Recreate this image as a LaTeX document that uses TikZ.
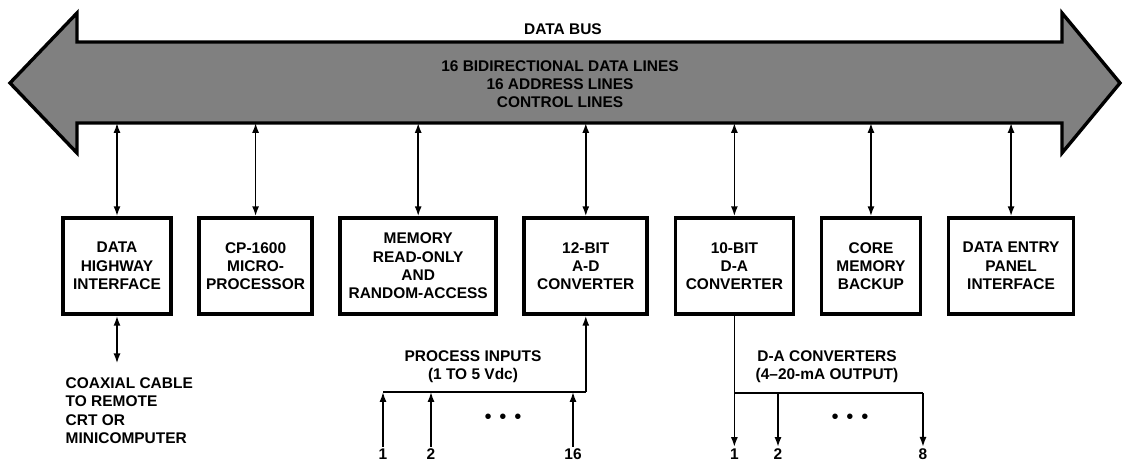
\documentclass[tikz,border=0pt]{standalone}
\usepackage{fontspec}
\setmainfont{Liberation Sans}
\usepackage{tikz}
\usetikzlibrary{arrows.meta,positioning}

\begin{document}
\begin{tikzpicture}[
  x=0.025cm, y=-0.025cm,
  font=\fontsize{11}{13}\selectfont\bfseries,
  blk/.style={rectangle, draw, line width=2.6pt, minimum height=2.4cm,
              align=center, inner sep=2pt},
  lbl/.style={align=center, inner sep=1pt},
  num/.style={inner sep=1pt},
  dots/.style={inner sep=1pt, font=\Large},
  arr/.style={-{Latex[length=7pt,width=5pt]}, line width=1.2pt},
  dbl/.style={{Latex[length=7pt,width=5pt]}-{Latex[length=7pt,width=5pt]},
              line width=1.2pt},
  wire/.style={line width=1.2pt},
  bus/.style={draw, line width=2.4pt, fill=black!50, line join=miter},
  node distance=0.61cm]

\useasboundingbox (0,0) rectangle (1125,464);

\draw[bus] (10,83) -- (77,13) -- (77,42) -- (1062,42) -- (1062,13) -- (1120,83)
  -- (1062,153) -- (1062,123) -- (77,123) -- (77,153) -- cycle;
\coordinate (busbot) at (560,123);
\node[lbl] (busname) at (563,29) {DATA BUS};
\node[lbl] (buslines) at (560,84) {16 BIDIRECTIONAL DATA LINES\\16 ADDRESS LINES\\CONTROL LINES};

\node[blk, minimum width=2.7cm] (dhi) at (117,266) {DATA\\HIGHWAY\\INTERFACE};
\node[blk, minimum width=2.825cm, right=of dhi] (cpu) {CP-1600\\MICRO-\\PROCESSOR};
\node[blk, minimum width=3.9cm, right=of cpu] (mem) {MEMORY\\READ-ONLY\\AND\\RANDOM-ACCESS};
\node[blk, minimum width=3.075cm, right=of mem] (adc) {12-BIT\\A-D\\CONVERTER};
\node[blk, minimum width=2.95cm, right=of adc] (dac) {10-BIT\\D-A\\CONVERTER};
\node[blk, minimum width=2.475cm, right=of dac] (core) {CORE\\MEMORY\\BACKUP};
\node[blk, minimum width=3.125cm, right=of core] (panel) {DATA ENTRY\\PANEL\\INTERFACE};

\draw[dbl] (dhi.north) -- (dhi.north |- busbot);
\draw[dbl] (cpu.north) -- (cpu.north |- busbot);
\draw[dbl] (mem.north) -- (mem.north |- busbot);
\draw[dbl] (adc.north) -- (adc.north |- busbot);
\draw[dbl] (dac.north) -- (dac.north |- busbot);
\draw[dbl] (core.north) -- (core.north |- busbot);
\draw[dbl] (panel.north) -- (panel.north |- busbot);

\node[lbl, align=left, anchor=north west] (coax) at (64,376)
  {COAXIAL CABLE\\TO REMOTE\\CRT OR\\MINICOMPUTER};
\draw[dbl, shorten >=9pt] (dhi.south) -- (dhi.south |- coax.north);

\node[lbl] (pin) at (473,367) {PROCESS INPUTS\\(1 TO 5 Vdc)};
\coordinate (pjoin) at (adc.south |- 0,392);
\node[num] (in1) at (383,454) {1};
\node[num] (in2) at (431,454) {2};
\node[num] (in16) at (573,454) {16};
\node[dots] (pdots) at (503,419) {\textbullet\hspace{5.5pt}\textbullet\hspace{5.5pt}\textbullet};
\draw[wire] (in1.north |- pjoin) -- (pjoin);
\draw[arr] (in1.north) -- (in1.north |- pjoin);
\draw[arr] (in2.north) -- (in2.north |- pjoin);
\draw[arr] (in16.north) -- (in16.north |- pjoin);
\draw[arr] (pjoin) -- (adc.south);

\node[lbl] (dout) at (827,367) {D-A CONVERTERS\\(4--20-mA OUTPUT)};
\coordinate (djoin) at (dac.south |- 0,393);
\node[num] (out1) at (dac.south |- 0,454) {1};
\node[num] (out2) at (778,454) {2};
\node[num] (out8) at (923,454) {8};
\node[dots] (ddots) at (850,419) {\textbullet\hspace{5.5pt}\textbullet\hspace{5.5pt}\textbullet};
\draw[wire] (dac.south) -- (djoin) -- (djoin -| out8.north);
\draw[arr] (djoin) -- (out1.north);
\draw[arr] (out2.north |- djoin) -- (out2.north);
\draw[arr] (out8.north |- djoin) -- (out8.north);
\end{tikzpicture}
\end{document}
